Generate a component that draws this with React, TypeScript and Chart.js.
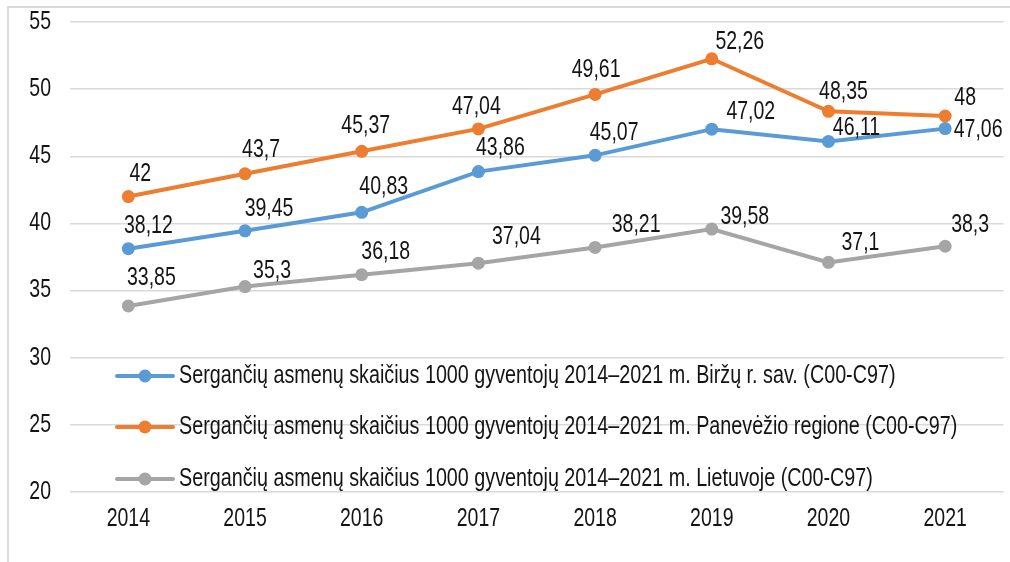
import React, { useEffect, useRef } from "react";
import { Chart, registerables } from "chart.js";

Chart.register(...registerables);

const years = ["2014", "2015", "2016", "2017", "2018", "2019", "2020", "2021"];
const birzai = [38.12, 39.45, 40.83, 43.86, 45.07, 47.02, 46.11, 47.06];
const panevezys = [42, 43.7, 45.37, 47.04, 49.61, 52.26, 48.35, 48];
const lietuva = [33.85, 35.3, 36.18, 37.04, 38.21, 39.58, 37.1, 38.3];
const seriesNames = [
  "Sergančių asmenų skaičius 1000 gyventojų 2014–2021 m. Biržų r. sav. (C00-C97)",
  "Sergančių asmenų skaičius 1000 gyventojų 2014–2021 m. Panevėžio regione (C00-C97)",
  "Sergančių asmenų skaičius 1000 gyventojų 2014–2021 m. Lietuvoje (C00-C97)",
];
const seriesColors = ["#5B9BD5", "#ED7D31", "#A5A5A5"];
const yMin = 20;
const yMax = 55;
const yStep = 5;

// label placement (pixel offsets from each point), per series
const labelOffsets: number[][][] = [
  [[20, -23], [24, -22], [22, -25], [22, -23], [19, -22], [39, -17], [28, -13], [33, 1]],
  [[12, -22], [16, -24], [4, -25], [-2, -22], [1, -24], [28, -17], [15, -19], [20, -18]],
  [[23, -28], [27, -15], [24, -23], [38, -26], [41, -22], [33, -12], [32, -19], [25, -21]],
];

const FONT = "'Liberation Sans', Arial, sans-serif";
const TEXT = "#141414";
const NARROW = 0.78;

const fmt = (v: number) => String(v).replace(".", ",");

function narrowText(ctx: any, text: string, x: number, y: number, align: string, size: number, sx: number = NARROW) {
  ctx.save();
  ctx.translate(x, y);
  ctx.scale(sx, 1);
  ctx.font = `${size}px ${FONT}`;
  ctx.fillStyle = TEXT;
  ctx.textAlign = align;
  ctx.textBaseline = "middle";
  ctx.fillText(text, 0, 0);
  ctx.restore();
}

const axisTextPlugin = {
  id: "axisText",
  afterDraw(chart: any) {
    const ctx = chart.ctx;
    const area = chart.chartArea;
    const ys = chart.scales.y;
    ys.ticks.forEach((t: any) => {
      narrowText(ctx, String(t.value), area.left - 19, ys.getPixelForValue(t.value), "right", 25);
    });
    const xs = chart.scales.x;
    chart.data.labels.forEach((lab: string, i: number) => {
      narrowText(ctx, lab, xs.getPixelForTick(i), area.bottom + 27, "center", 25);
    });
  },
};

const labelsPlugin = {
  id: "valueLabels",
  afterDatasetsDraw(chart: any) {
    const ctx = chart.ctx;
    chart.data.datasets.forEach((ds: any, di: number) => {
      const meta = chart.getDatasetMeta(di);
      meta.data.forEach((el: any, i: number) => {
        const off = labelOffsets[di][i];
        narrowText(ctx, fmt(ds.data[i]), el.x + off[0], el.y + off[1], "center", 25);
      });
    });
  },
};

const legendPlugin = {
  id: "innerLegend",
  afterDraw(chart: any) {
    const ctx = chart.ctx;
    const area = chart.chartArea;
    const x0 = area.left + 47;
    const rows = [area.top + 354, area.top + 405, area.top + 457];
    chart.data.datasets.forEach((ds: any, di: number) => {
      const y = rows[di];
      ctx.save();
      ctx.strokeStyle = ds.borderColor;
      ctx.lineWidth = 4;
      ctx.lineCap = "round";
      ctx.beginPath();
      ctx.moveTo(x0, y);
      ctx.lineTo(x0 + 56, y);
      ctx.stroke();
      ctx.fillStyle = ds.borderColor;
      ctx.beginPath();
      ctx.arc(x0 + 28, y, 6.5, 0, Math.PI * 2);
      ctx.fill();
      ctx.restore();
      narrowText(ctx, ds.label, x0 + 62, y, "left", 25, 0.79);
    });
  },
};

export default function App() {
  const ref = useRef<HTMLCanvasElement | null>(null);

  useEffect(() => {
    if (!ref.current) return;
    const series = [birzai, panevezys, lietuva];
    const drawOrder = [1, 0, 2];
    const chart = new Chart(ref.current, {
      type: "line",
      data: {
        labels: years,
        datasets: series.map((d, i) => ({
          label: seriesNames[i],
          data: d,
          borderColor: seriesColors[i],
          backgroundColor: seriesColors[i],
          pointBackgroundColor: seriesColors[i],
          pointBorderColor: seriesColors[i],
          borderWidth: 4,
          pointRadius: 6.5,
          pointBorderWidth: 0,
          tension: 0,
          fill: false,
          order: drawOrder[i],
        })),
      },
      options: {
        responsive: false,
        devicePixelRatio: 1,
        animation: false,
        layout: { padding: { top: 22, right: 4, left: 0, bottom: 0 } },
        plugins: {
          legend: { display: false },
          tooltip: { enabled: false },
        },
        scales: {
          x: {
            type: "category",
            offset: true,
            grid: { display: false },
            border: { display: false },
            ticks: { display: false },
            afterFit: (s: any) => {
              s.height = 70;
            },
          },
          y: {
            min: yMin,
            max: yMax,
            grid: { color: "#d9d9d9", lineWidth: 1.5, drawTicks: false },
            border: { display: false },
            ticks: { stepSize: yStep, display: false },
            afterFit: (s: any) => {
              s.width = 70;
            },
          },
        },
      },
      plugins: [labelsPlugin, legendPlugin, axisTextPlugin],
    } as any);
    return () => chart.destroy();
  }, []);

  return (
    <div style={{ position: "fixed", left: 0, top: 0, width: 1010, height: 562, overflow: "hidden", background: "#fff" }}>
      <div
        style={{
          position: "absolute",
          left: 7,
          top: 6,
          width: 1200,
          height: 800,
          borderLeft: "2px solid #d9d9d9",
          borderTop: "2px solid #d9d9d9",
        }}
      />
      <canvas ref={ref} width={1010} height={562} style={{ position: "absolute", left: 0, top: 0, display: "block" }} />
    </div>
  );
}
